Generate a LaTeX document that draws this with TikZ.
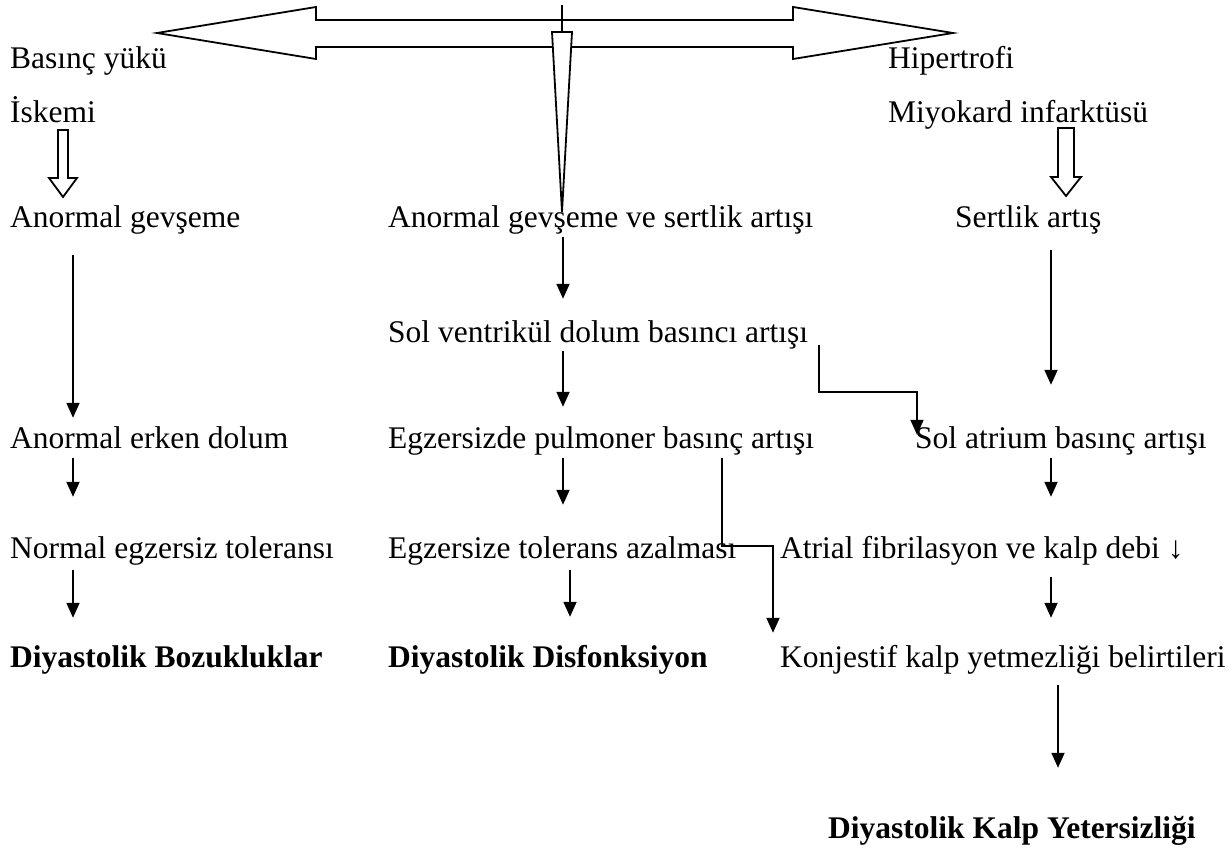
\documentclass[tikz,border=0pt]{standalone}
\usepackage{fontspec}
\setmainfont{Liberation Serif}
\usetikzlibrary{arrows.meta,calc}
\begin{document}
\begin{tikzpicture}[x=1pt,y=-1pt,
  txt/.style={anchor=base west, inner sep=0pt, text height=22pt, text depth=7pt, font=\fontsize{31.5}{38}\selectfont},
  bld/.style={txt, font=\fontsize{31.5}{38}\selectfont\bfseries},
  arr/.style={line width=1.8pt, -{Triangle[length=15pt,width=13pt]}},
  outline/.style={line width=1.8pt, fill=white, line join=miter}]
\useasboundingbox (0,0) rectangle (1231,850);

% top double arrow and wedge
\draw[outline] (157,33) -- (316,7) -- (316,20) -- (793,20) -- (793,7) -- (953,33) -- (793,59) -- (793,47) -- (316,47) -- (316,59) -- cycle;
\draw[line width=1.8pt] (562,5) -- (562,32);
\draw[outline] (552,32) -- (572,32) -- (562,212) -- cycle;

% texts
\node[txt] (bas) at (10,69) {Basınç yükü};
\node[txt] (hip) at (888,69) {Hipertrofi};
\node[txt] (isk) at (10,123) {İskemi};
\node[txt] (miy) at (888,123) {Miyokard infarktüsü};
\node[txt] (ag) at (10,228) {Anormal gevşeme};
\node[txt] (agv) at (388,228) {Anormal gevşeme ve sertlik artışı};
\node[txt] (sa1) at (955,228) {Sertlik artış};
\node[txt] (sv) at (388,342) {Sol ventrikül dolum basıncı artışı};
\node[txt] (aed) at (10,448) {Anormal erken dolum};
\node[txt] (ep) at (388,448) {Egzersizde pulmoner basınç artışı};
\node[txt] (sat) at (915,448) {Sol atrium basınç artışı};
\node[txt] (net) at (10,558) {Normal egzersiz toleransı};
\node[txt] (eta) at (388,558) {Egzersize tolerans azalması};
\node[txt] (af) at (780,558) {Atrial fibrilasyon ve kalp debi ↓};
\node[bld] (db) at (10,667) {Diyastolik Bozukluklar};
\node[bld] (dd) at (388,667) {Diyastolik Disfonksiyon};
\node[txt] (kk) at (780,667) {Konjestif kalp yetmezliği belirtileri};
\node[bld] (dky) at (828,838) {Diyastolik Kalp Yetersizliği};

% hollow block arrows
\draw[outline] (58,130) -- (68,130) -- (68,178) -- (77,178) -- (63,197) -- (49,178) -- (58,178) -- cycle;
\draw[outline] (1058,128) -- (1074,128) -- (1074,177) -- (1081,177) -- (1066,196) -- (1051,177) -- (1058,177) -- cycle;

% column lines
\coordinate (cL) at (73,0);
\coordinate (cM) at (563,0);
\coordinate (cM2) at (570,0);
\coordinate (cR) at (1051,0);
\coordinate (cR2) at (1058,0);

% left column
\draw[arr, shorten <=20pt, shorten >=8pt] (ag.south -| cL) -- (aed.north -| cL);
\draw[arr, shorten <=3pt, shorten >=39pt] (aed.south -| cL) -- (net.north -| cL);
\draw[arr, shorten <=5pt, shorten >=27pt] (net.south -| cL) -- (db.north -| cL);
% middle column
\draw[arr, shorten <=2pt, shorten >=21pt] (agv.south -| cM) -- (sv.north -| cM);
\draw[arr, shorten <=2pt, shorten >=19pt] (sv.south -| cM) -- (ep.north -| cM);
\draw[arr, shorten <=3pt, shorten >=31pt] (ep.south -| cM) -- (eta.north -| cM);
\draw[arr, shorten <=5pt, shorten >=28pt] (eta.south -| cM2) -- (dd.north -| cM2);
% right column
\draw[arr, shorten <=15pt, shorten >=41pt] (sa1.south -| cR) -- (sat.north -| cR);
\draw[arr, shorten <=3pt, shorten >=39pt] (sat.south -| cR) -- (af.north -| cR);
\draw[arr, shorten <=12pt, shorten >=27pt] (af.south -| cR) -- (kk.north -| cR);
\draw[arr, shorten <=11pt, shorten >=48pt] (kk.south -| cR2) -- (dky.north -| cR2);
% elbow connectors
\draw[arr] ($(sv.east)+(11,10)$) |- ($(sat.north west)+(2,-34)$) -- ($(sat.north west)+(2,9)$);
\draw[arr] ($(ep.south west)+(334,3)$) |- ($(kk.north west)+(-7,-99)$) -- ($(kk.north west)+(-7,-12)$);
\end{tikzpicture}
\end{document}
